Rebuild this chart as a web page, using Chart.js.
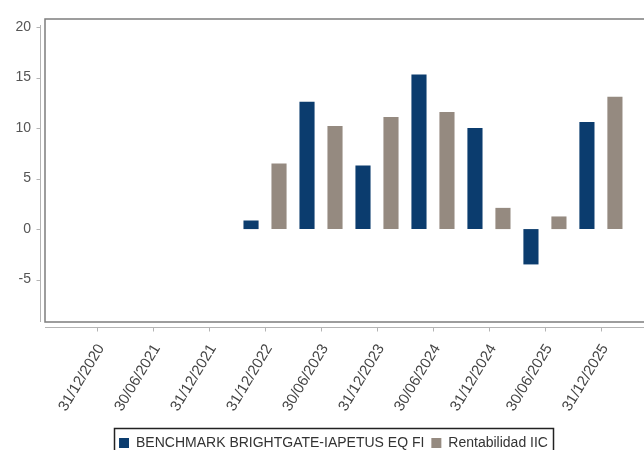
<!DOCTYPE html>
<html>
<head>
<meta charset="utf-8">
<script src="https://cdn.jsdelivr.net/npm/chart.js@4/dist/chart.umd.min.js"></script>
<style>
  html, body { margin: 0; padding: 0; background: #fff; overflow: hidden; }
  #wrap { width: 660px; height: 460px; position: relative; }
</style>
</head>
<body>
<div id="wrap"><canvas id="c"></canvas></div>
<script>
const categories = ['31/12/2020','30/06/2021','31/12/2021','31/12/2022','30/06/2023','31/12/2023','30/06/2024','31/12/2024','30/06/2025','31/12/2025'];
const benchmarkName = 'BENCHMARK BRIGHTGATE-IAPETUS EQ FI';
const benchmarkValues = [null, null, null, 0.85, 12.6, 6.3, 15.3, 10.0, -3.5, 10.6];
const fundName = 'Rentabilidad IIC';
const fundValues = [null, null, null, 6.5, 10.2, 11.1, 11.6, 2.1, 1.25, 13.1];
const yTicks = [-5, 0, 5, 10, 15, 20];
const yMin = -9.2;
const yMax = 20.8;
const xMin = -0.93;
const xMax = 9.93;

const BLUE = '#0b3c6e';
const GREY = '#958a80';
const FONT = '"Liberation Sans", Arial, sans-serif';

const toPoints = vals => vals.map((v, i) => ({ x: i, y: v }));

const framePlugin = {
  id: 'frame',
  afterDraw(chart) {
    const ctx = chart.ctx;
    const a = chart.chartArea;
    const xs = chart.scales.x, ys = chart.scales.y;
    const right = chart.width + 5;
    ctx.save();
    // plot frame
    ctx.strokeStyle = '#7d7d7d';
    ctx.lineWidth = 1.5;
    ctx.strokeRect(a.left, a.top, right - a.left, a.bottom - a.top);
    // y axis line + ticks
    ctx.strokeStyle = '#b4b4b4';
    ctx.lineWidth = 1;
    const yAxisX = a.left - 4.5;
    ctx.beginPath();
    ctx.moveTo(yAxisX, a.top + 6);
    ctx.lineTo(yAxisX, a.bottom);
    ys.ticks.forEach(t => {
      const py = Math.round(ys.getPixelForValue(t.value)) + 0.5;
      ctx.moveTo(yAxisX - 4, py);
      ctx.lineTo(yAxisX, py);
    });
    ctx.stroke();
    // x axis line + ticks
    const xAxisY = a.bottom + 5.5;
    ctx.beginPath();
    ctx.moveTo(a.left, xAxisY);
    ctx.lineTo(right, xAxisY);
    xs.ticks.forEach(t => {
      const px = Math.round(xs.getPixelForValue(t.value)) + 0.5;
      ctx.moveTo(px, xAxisY);
      ctx.lineTo(px, xAxisY + 4);
    });
    ctx.stroke();
    // legend border
    const lg = chart.legend;
    if (lg && lg.legendHitBoxes && lg.legendHitBoxes.length) {
      const hb = lg.legendHitBoxes;
      const l = hb[0].left - 5;
      const r = hb[hb.length - 1].left + hb[hb.length - 1].width + 5;
      const t = hb[0].top - 8;
      const b = hb[0].top + hb[0].height + 14;
      ctx.strokeStyle = '#222';
      ctx.lineWidth = 1.5;
      ctx.strokeRect(Math.round(l) + 0.5, Math.round(t) + 0.5, Math.round(r - l), Math.round(b - t));
    }
    ctx.restore();
  }
};

new Chart(document.getElementById('c'), {
  type: 'bar',
  data: {
    datasets: [
      { label: benchmarkName, data: toPoints(benchmarkValues), backgroundColor: BLUE, barPercentage: 0.54, categoryPercentage: 1.0 },
      { label: fundName, data: toPoints(fundValues), backgroundColor: GREY, barPercentage: 0.54, categoryPercentage: 1.0 }
    ]
  },
  options: {
    responsive: true,
    maintainAspectRatio: false,
    animation: false,
    layout: { padding: { left: 14, right: 7, top: 19, bottom: 0 } },
    plugins: {
      tooltip: { enabled: false },
      legend: {
        position: 'bottom',
        labels: {
          boxWidth: 10, boxHeight: 10, padding: 7,
          color: '#333',
          font: { family: FONT, size: 14 }
        }
      }
    },
    scales: {
      x: {
        type: 'linear',
        offset: false,
        min: xMin, max: xMax,
        grid: { display: false, drawTicks: false, offset: false },
        border: { display: false },
        afterBuildTicks(s) { s.ticks = categories.map((c, i) => ({ value: i })); },
        ticks: {
          autoSkip: false, minRotation: 59, maxRotation: 59, padding: 19, labelOffset: 4,
          color: '#444', font: { family: FONT, size: 15 },
          callback: (v) => categories[v]
        },
        afterFit(s) { s.height = 107; }
      },
      y: {
        min: yMin, max: yMax,
        grid: { display: false, drawTicks: false },
        border: { display: false },
        afterBuildTicks(s) { s.ticks = yTicks.map(v => ({ value: v })); },
        ticks: {
          padding: 14, color: '#555', font: { family: FONT, size: 14 },
          callback: v => String(v)
        },
        afterFit(s) { s.width = 31; s.paddingTop = 0; s.paddingBottom = 0; }
      }
    }
  },
  plugins: [framePlugin]
});
</script>
</body>
</html>
